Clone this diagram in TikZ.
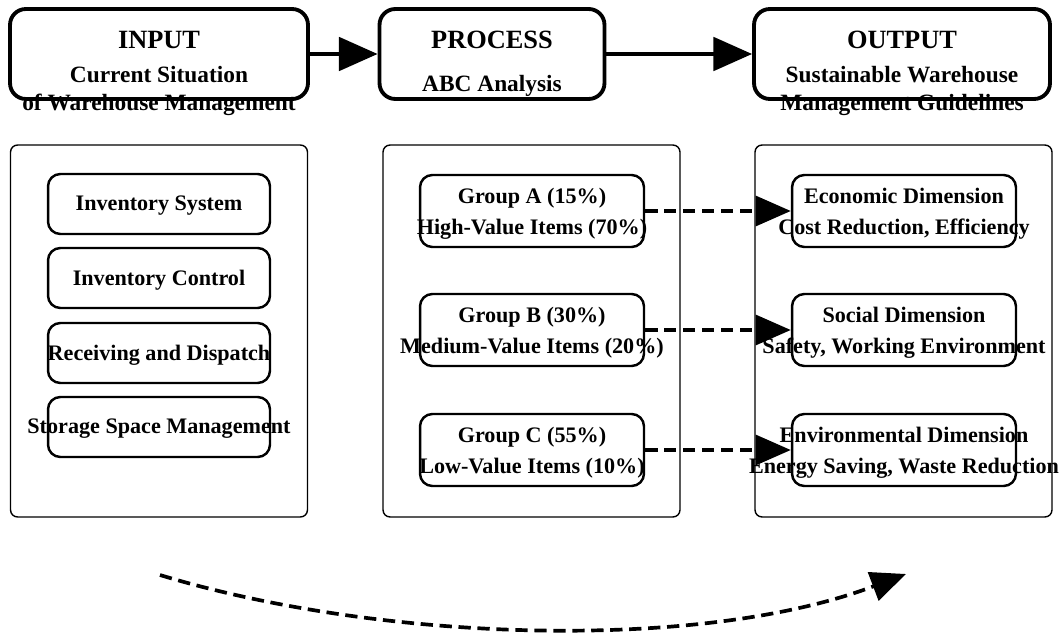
\documentclass[tikz,border=0pt]{standalone}
\usepackage{fontspec}
\setmainfont{Liberation Serif}
\usepackage{tikz}
\usetikzlibrary{arrows.meta,positioning,calc}
\tikzset{
  phase/.style={draw, line width=2.2pt, rounded corners=9pt,
                minimum width=5.96cm, minimum height=1.8cm},
  panel/.style={draw, line width=0.8pt, rounded corners=4pt,
                minimum width=5.94cm, minimum height=7.44cm},
  ttl/.style={font=\fontsize{15}{17}\selectfont\bfseries},
  sub/.style={font=\fontsize{13.3}{16}\selectfont\bfseries, align=center},
  ibox/.style={draw, line width=1.4pt, rounded corners=7pt,
               minimum width=4.44cm, minimum height=1.2cm},
  gbox/.style={ibox, minimum width=4.48cm, minimum height=1.44cm},
  itxt/.style={font=\fontsize{12.6}{17.5}\selectfont\bfseries, align=center},
  flow/.style={-{Triangle[length=22pt, width=19pt]}, line width=2.2pt},
  flowd/.style={-{Triangle[length=20pt, width=17pt]}, line width=2.1pt,
                dash pattern=on 7pt off 3.8pt},
}
\begin{document}
\begin{tikzpicture}[x=0.02cm, y=-0.02cm]
  \useasboundingbox (0,0) rectangle (1061,635);
  % top row
  \node[phase] (inp) at (159,54) {};
  \node[phase, minimum width=4.5cm] (proc) at (492,54) {};
  \node[phase, minimum width=5.92cm] (outp) at (902,54) {};
  \node[ttl] (inpT) at (159,40) {INPUT};
  \node[sub] (inpS) at (159,91) {Current Situation\\of Warehouse Management};
  \node[ttl] (procT) at (492,40) {PROCESS};
  \node[sub] (procS) at (492,86) {ABC Analysis};
  \node[ttl] (outpT) at (902,40) {OUTPUT};
  \node[sub] (outpS) at (902,91) {Sustainable Warehouse\\Management Guidelines};
  \draw[flow] (inp) -- (proc);
  \draw[flow] (proc) -- (outp);
  % panels
  \node[panel] (pin) at (159,331) {};
  \node[panel] (ppr) at (531.5,331) {};
  \node[panel] (pout) at (903.5,331) {};
  % input items
  \node[ibox] (i1) at (159,204) {};
  \node[ibox] (i2) at (159,278) {};
  \node[ibox] (i3) at (159,353) {};
  \node[ibox] (i4) at (159,427) {};
  \node[itxt] at ($(i1)+(0,2)$) {Inventory System};
  \node[itxt] at ($(i2)+(0,2)$) {Inventory Control};
  \node[itxt] at ($(i3)+(0,2)$) {Receiving and Dispatch};
  \node[itxt] at ($(i4)+(0,2)$) {Storage Space Management};
  % groups and dimensions
  \node[gbox] (ga) at (532,211) {};
  \node[gbox] (gb) at (532,330) {};
  \node[gbox] (gc) at (532,450) {};
  \node[gbox] (da) at (904,211) {};
  \node[gbox] (db) at (904,330) {};
  \node[gbox] (dc) at (904,450) {};
  \node[itxt] at ($(ga)+(0,3)$) {Group A (15\%)\\High-Value Items (70\%)};
  \node[itxt] at ($(gb)+(0,3)$) {Group B (30\%)\\Medium-Value Items (20\%)};
  \node[itxt] at ($(gc)+(0,3)$) {Group C (55\%)\\Low-Value Items (10\%)};
  \node[itxt] at ($(da)+(0,3)$) {Economic Dimension\\Cost Reduction, Efficiency};
  \node[itxt] at ($(db)+(0,3)$) {Social Dimension\\Safety, Working Environment};
  \node[itxt] at ($(dc)+(0,3)$) {Environmental Dimension\\Energy Saving, Waste Reduction};
  \draw[flowd] (ga) -- (da);
  \draw[flowd] (gb) -- (db);
  \draw[flowd] (gc) -- (dc);
  % feedback curve
  \coordinate (cs) at (160,575);
  \coordinate (ce) at (906,574);
  \draw[flowd] (cs) .. controls (380,642) and (700,652) .. (ce);
\end{tikzpicture}
\end{document}
